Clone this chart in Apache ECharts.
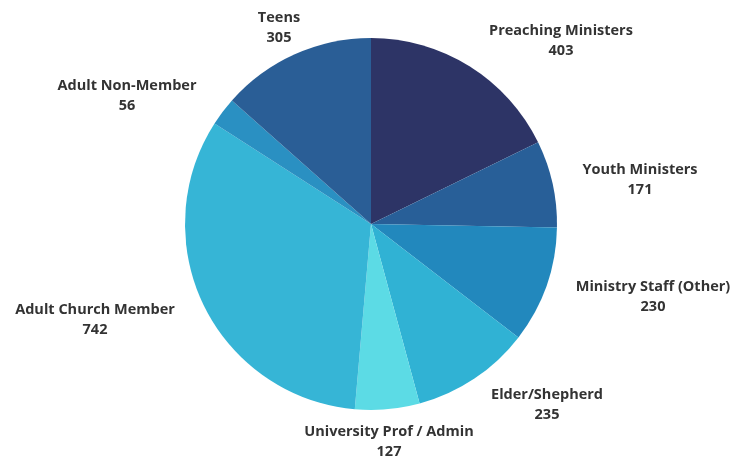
<!DOCTYPE html>
<html>
<head>
<meta charset="utf-8">
<script src="https://cdn.jsdelivr.net/npm/echarts@6/dist/echarts.min.js"></script>
<style>
  html, body { margin: 0; padding: 0; background: #ffffff; }
  #chart { width: 744px; height: 465px; }
</style>
</head>
<body>
<div id="chart"></div>
<script>
// Respondent groups, clockwise from 12 o'clock
var categories = [
  'Preaching Ministers',
  'Youth Ministers',
  'Ministry Staff (Other)',
  'Elder/Shepherd',
  'University Prof / Admin',
  'Adult Church Member',
  'Adult Non-Member',
  'Teens'
];
var counts = [403, 171, 230, 235, 127, 742, 56, 305];

// Slice colours, same order as categories
var sliceColors = [
  '#2d3466', '#285f98', '#2288bd', '#30b2d4',
  '#5cdbe5', '#36b5d6', '#2a90c2', '#2a5e96'
];

// Label anchor points (centre of each two-line label)
var labelAnchors = [
  [561, 41], [640, 180], [653, 297], [547, 405],
  [389, 442], [95, 320], [127, 96], [279, 28]
];

var chart = echarts.init(document.getElementById('chart'), null, { renderer: 'canvas' });

chart.setOption({
  animation: false,
  backgroundColor: '#ffffff',
  series: [{
    type: 'pie',
    center: [371, 224],
    radius: [0, 186],
    startAngle: 90,
    clockwise: true,
    avoidLabelOverlap: false,
    itemStyle: { borderWidth: 0 },
    label: {
      show: true,
      position: 'outside',
      formatter: '{b}\n{c}',
      fontFamily: 'Open Sans',
      fontWeight: 'bold',
      fontSize: 14.5,
      lineHeight: 20,
      color: '#333333',
      align: 'center'
    },
    labelLine: { show: false },
    labelLayout: function (p) {
      var a = labelAnchors[p.dataIndex];
      return { x: a[0], y: a[1], align: 'center', verticalAlign: 'middle' };
    },
    emphasis: { disabled: true },
    data: categories.map(function (name, i) {
      return { name: name, value: counts[i], itemStyle: { color: sliceColors[i] } };
    })
  }]
});
</script>
</body>
</html>
